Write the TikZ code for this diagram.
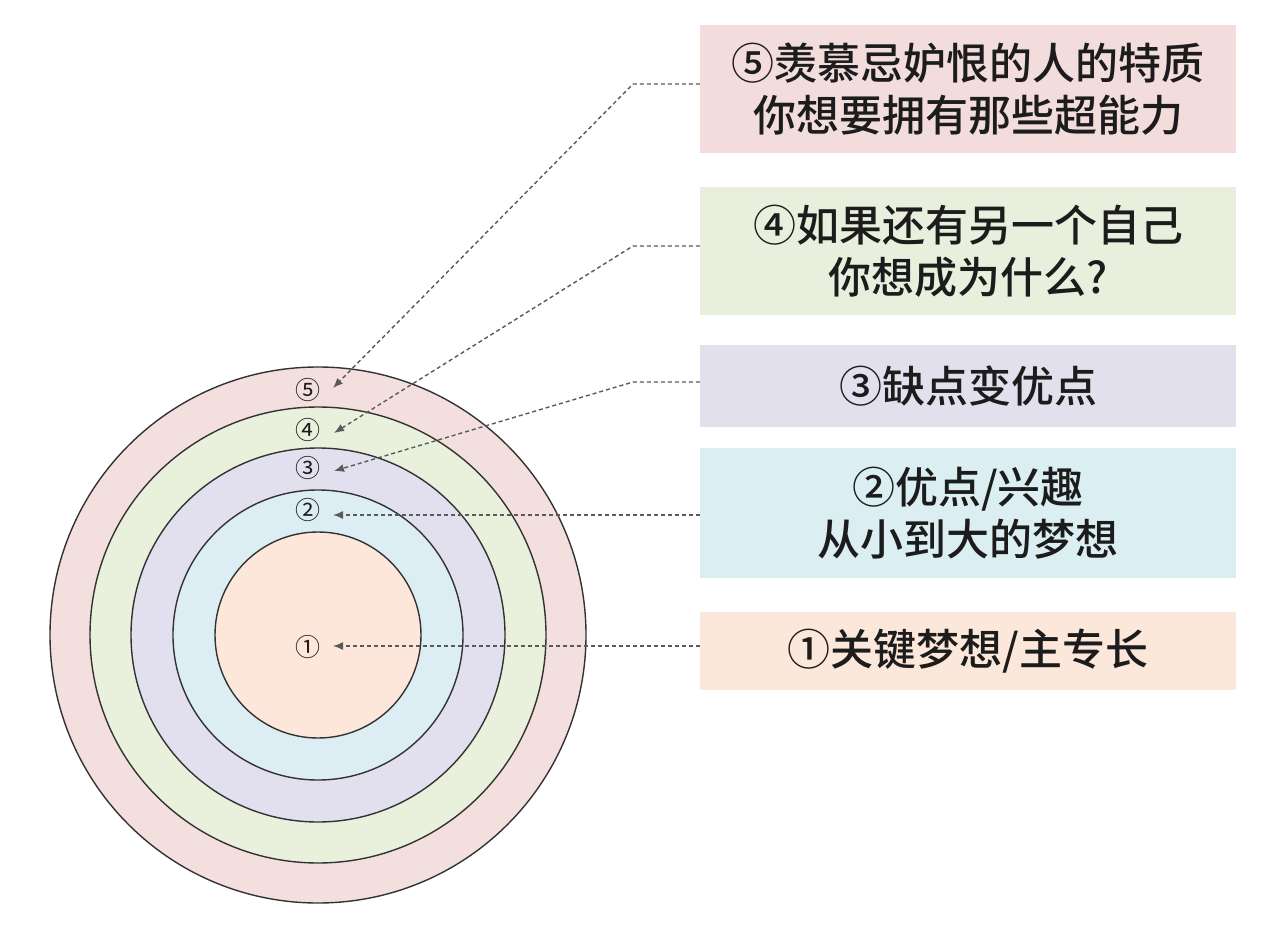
\documentclass[tikz,border=0pt]{standalone}
\usepackage{fontspec}
\newfontfamily\cjk{Noto Sans CJK SC}
\newfontfamily\cjkm[UprightFont={* Medium}]{Noto Sans CJK SC}
\usetikzlibrary{arrows.meta}
\definecolor{r5}{HTML}{F3DFDE}
\definecolor{r4}{HTML}{E9F0DC}
\definecolor{r3}{HTML}{E2E0EF}
\definecolor{r2}{HTML}{DCEEF3}
\definecolor{r1}{HTML}{FCE7DA}
\definecolor{b5}{HTML}{F2DCDC}
\definecolor{b4}{HTML}{E8EFDC}
\definecolor{b3}{HTML}{E2E0EC}
\definecolor{b2}{HTML}{DBEEF1}
\definecolor{b1}{HTML}{FCE8DA}
\definecolor{ink}{HTML}{1C1C1C}
\definecolor{dash}{HTML}{5A5A5A}
\definecolor{ringline}{HTML}{333333}
\tikzset{
  ring/.style={draw=ringline, line width=1.4pt},
  textbox/.style={inner sep=0pt, minimum width=536pt, align=center, text=ink,
    font=\cjkm\fontsize{43}{52}\selectfont},
  num/.style={inner sep=0pt, text=ink, font=\cjk\fontsize{25}{25}\selectfont},
  conn/.style={draw=dash, line width=1.4pt, dash pattern=on 4pt off 3pt,
    -{Latex[length=10pt,width=8pt]}},
}
\begin{document}
\begin{tikzpicture}[x=1pt,y=-1pt]
\fill[white] (0,0) rectangle (1288,936);
\useasboundingbox (0,0) rectangle (1288,936);
% rings
\draw[ring, fill=r5] (318,635) circle[radius=268pt];
\draw[ring, fill=r4] (318,635) circle[radius=228pt];
\draw[ring, fill=r3] (318,635) circle[radius=187pt];
\draw[ring, fill=r2] (318,635) circle[radius=145pt];
\draw[ring, fill=r1] (318,635) circle[radius=103pt];
% numbers
\node[num] (n5) at (308,390) {⑤};
\node[num] (n4) at (308,430) {④};
\node[num] (n3) at (308,468) {③};
\node[num] (n2) at (308,510) {②};
\node[num] (n1) at (308,647) {①};
% boxes
\node[textbox, fill=b5, minimum height=128pt] (b5) at (968,89)
  {⑤羡慕忌妒恨的人的特质\\你想要拥有那些超能力};
\node[textbox, fill=b4, minimum height=128pt] (b4) at (968,251)
  {④如果还有另一个自己\\你想成为什么?};
\node[textbox, fill=b3, minimum height=82pt] (b3) at (968,386)
  {③缺点变优点};
\node[textbox, fill=b2, minimum height=130pt] (b2) at (968,513)
  {②优点/兴趣\\从小到大的梦想};
\node[textbox, fill=b1, minimum height=78pt] (b1) at (968,651)
  {①关键梦想/主专长};
% connector bends and ends
\coordinate (k5) at (633,84);
\coordinate (k4) at (633,246);
\coordinate (k3) at (633,382);
\coordinate (e5) at (333,388);
\coordinate (e4) at (334,433);
\coordinate (e3) at (334,471);
\coordinate (e2) at (333,515);
\coordinate (e1) at (333,646);
\draw[conn] ([yshift=5pt]b5.west) -- (k5) -- (e5);
\draw[conn] ([yshift=5pt]b4.west) -- (k4) -- (e4);
\draw[conn] ([yshift=4pt]b3.west) -- (k3) -- (e3);
\draw[conn] ([yshift=-2pt]b2.west) -- (e2);
\draw[conn] ([yshift=5pt]b1.west) -- (e1);
\end{tikzpicture}
\end{document}
